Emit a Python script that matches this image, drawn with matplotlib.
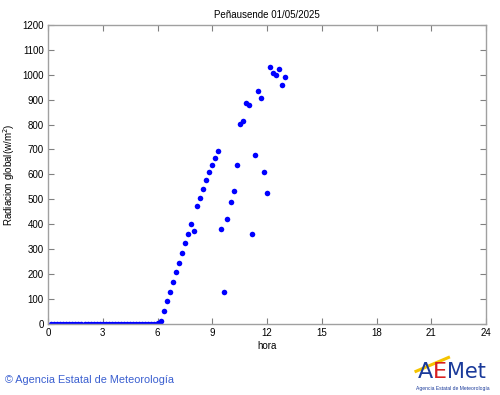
import numpy as np
import matplotlib
matplotlib.use('Agg')
from matplotlib import pyplot as plt

plt.rcParams['font.family'] = ['Liberation Sans', 'DejaVu Sans']

# radiation readings every 10 min
hora = np.arange(1, 79) / 6.0
radiacion = [0] * 35 + [2, 10,
    53, 90, 127, 167, 208, 246, 286, 324, 361, 400, 371, 473,
    506, 543, 577, 608, 637, 667, 695, 380, 128, 422, 490, 533,
    639, 803, 815, 888, 878, 360, 677, 933, 906, 609, 527, 1031,
    1007, 999, 1021, 960, 991]

xticks = [0, 3, 6, 9, 12, 15, 18, 21, 24]
yticks = list(range(0, 1201, 100))

fig = plt.figure(figsize=(5, 3.95), dpi=100)
ax = fig.add_axes([0.096, 0.18, 0.876, 0.757])
ax.plot(hora, radiacion, 'o', color='#0000ff', ms=4, mec='none')
ax.set_xlim(0, 24)
ax.set_ylim(0, 1200)
ax.set_xticks(xticks)
ax.set_yticks(yticks)
ax.tick_params(direction='in', top=True, right=True, length=4, color='#808080',
               labelsize=7, pad=3)
for s in ax.spines.values():
    s.set_color('#a0a0a0')
    s.set_linewidth(1)
ax.set_title('Peñausende 01/05/2025', fontsize=7, pad=5)
ax.set_xlabel('hora', fontsize=7, labelpad=2)
ax.set_ylabel('Radiacion global(w/m$^2$)', fontsize=7, labelpad=4)

fig.text(0.01, 0.03, '© Agencia Estatal de Meteorología', color='#3a5fd0', fontsize=7.8)

# rough AEMET logo
t = np.linspace(0, 1, 50)
fig.lines.append(plt.Line2D(0.832 + 0.065 * t, 0.06 + 0.035 * t,
                            transform=fig.transFigure, color='#f5c400', lw=2.2))
fig.text(0.836, 0.042, 'A', color='#1a3a9a', fontsize=16, family='DejaVu Sans')
fig.text(0.866, 0.042, 'E', color='#d81e1e', fontsize=16, family='DejaVu Sans')
fig.text(0.894, 0.042, 'Met', color='#1a3a9a', fontsize=15, family='DejaVu Sans')
fig.text(0.833, 0.012, 'Agencia Estatal de Meteorología', color='#1a3a9a', fontsize=3.6)

fig.savefig('out.png', dpi=100)
